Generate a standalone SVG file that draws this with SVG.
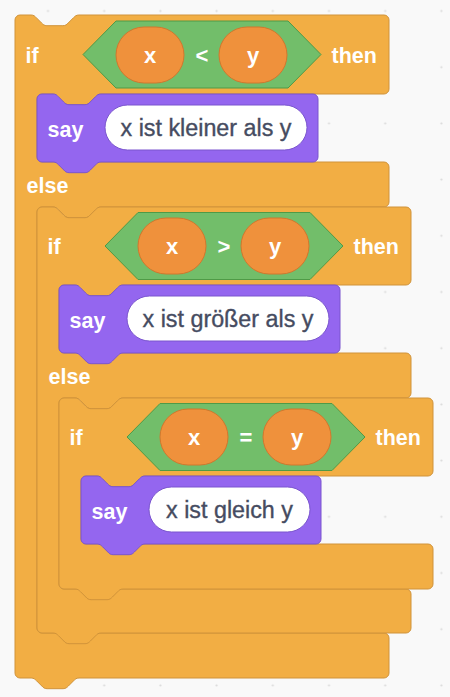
<svg xmlns="http://www.w3.org/2000/svg" width="450" height="697" viewBox="0 0 450 697">
  <defs>
    <pattern id="grid" patternUnits="userSpaceOnUse" x="19.9" y="-17.1" width="56.2" height="56.2">
      <circle cx="28.1" cy="28.1" r="1.1" fill="#dadada"/>
    </pattern>
    <style>
      .ctrl { fill: #F2AE44; stroke: #D0933A; stroke-width: 1; }
      .looks { fill: #9466EF; stroke: #7A55CE; stroke-width: 1; }
      .op { fill: #72BE6A; stroke: #4F9A47; stroke-width: 1; }
      .var { fill: #EF913C; stroke: #D2772D; stroke-width: 1; }
      .pill { fill: #FFFFFF; stroke: #7A55CE; stroke-width: 1; }
      .lbl { font-family: "Liberation Sans", Arial, sans-serif; font-weight: bold; font-size: 21.5px; fill: #FFFFFF; }
      .vlbl { font-family: "Liberation Sans", Arial, sans-serif; font-weight: bold; font-size: 22px; fill: #FFFFFF; text-anchor: middle; }
      .txt { font-family: "Liberation Sans", Arial, sans-serif; font-size: 23.3px; fill: #464C61; stroke: #464C61; stroke-width: 0.35; text-anchor: middle; }
    </style>
  </defs>

  <rect width="450" height="697" fill="#F9F9F9"/>
  <rect width="450" height="697" fill="url(#grid)"/>

  <!-- outer if / else -->
  <g id="if1">
    <path class="ctrl" d="M15,20 a5,5 0 0 1 5,-5 H31 c2.7,0 4,1.3 5.3,2.7 l5.3,5.3 c1.3,1.3 2.7,2.7 5.3,2.7 h16 c2.7,0 4,-1.3 5.3,-2.7 l5.3,-5.3 c1.3,-1.3 2.7,-2.7 5.3,-2.7 H384 a5,5 0 0 1 5,5 V89 a5,5 0 0 1 -5,5 H101 c-2.7,0 -4,1.3 -5.3,2.7 l-5.3,5.3 c-1.3,1.3 -2.7,2.7 -5.3,2.7 h-16 c-2.7,0 -4,-1.3 -5.3,-2.7 l-5.3,-5.3 c-1.3,-1.3 -2.7,-2.7 -5.3,-2.7 H42 a5,5 0 0 0 -5,5 V157 a5,5 0 0 0 5,5 H384 a5,5 0 0 1 5,5 V202 a5,5 0 0 1 -5,5 H101 c-2.7,0 -4,1.3 -5.3,2.7 l-5.3,5.3 c-1.3,1.3 -2.7,2.7 -5.3,2.7 h-16 c-2.7,0 -4,-1.3 -5.3,-2.7 l-5.3,-5.3 c-1.3,-1.3 -2.7,-2.7 -5.3,-2.7 H42 a5,5 0 0 0 -5,5 V628 a5,5 0 0 0 5,5 H384 a5,5 0 0 1 5,5 V673 a5,5 0 0 1 -5,5 H79 c-2.7,0 -4,1.3 -5.3,2.7 l-5.3,5.3 c-1.3,1.3 -2.7,2.7 -5.3,2.7 h-16 c-2.7,0 -4,-1.3 -5.3,-2.7 l-5.3,-5.3 c-1.3,-1.3 -2.7,-2.7 -5.3,-2.7 H20 a5,5 0 0 1 -5,-5 Z"/>
    <text class="lbl" x="25.5" y="62.5">if</text>
    <polygon class="op" points="83,54.5 116,21 288,21 321,54.5 288,88 116,88"/>
    <rect class="var" x="116" y="27" width="68" height="56" rx="28"/>
    <text class="vlbl" x="150" y="62.5">x</text>
    <text class="vlbl" x="202" y="62.5">&lt;</text>
    <rect class="var" x="219" y="27" width="68" height="56" rx="28"/>
    <text class="vlbl" x="253" y="62.5">y</text>
    <text class="lbl" x="331.5" y="62.5">then</text>
    <text class="lbl" x="26.5" y="192.5">else</text>
  </g>

  <g id="say1">
    <path class="looks" d="M37,99 a5,5 0 0 1 5,-5 H53 c2.7,0 4,1.3 5.3,2.7 l5.3,5.3 c1.3,1.3 2.7,2.7 5.3,2.7 h16 c2.7,0 4,-1.3 5.3,-2.7 l5.3,-5.3 c1.3,-1.3 2.7,-2.7 5.3,-2.7 H313 a5,5 0 0 1 5,5 V157 a5,5 0 0 1 -5,5 H101 c-2.7,0 -4,1.3 -5.3,2.7 l-5.3,5.3 c-1.3,1.3 -2.7,2.7 -5.3,2.7 h-16 c-2.7,0 -4,-1.3 -5.3,-2.7 l-5.3,-5.3 c-1.3,-1.3 -2.7,-2.7 -5.3,-2.7 H42 a5,5 0 0 1 -5,-5 Z"/>
    <text class="lbl" x="47.5" y="136.5">say</text>
    <rect class="pill" x="105" y="105" width="202" height="45" rx="22.5"/>
    <text class="txt" x="206" y="136">x ist kleiner als y</text>
  </g>

  <!-- nested if / else -->
  <g id="if2">
    <path class="ctrl" d="M37,212 a5,5 0 0 1 5,-5 H53 c2.7,0 4,1.3 5.3,2.7 l5.3,5.3 c1.3,1.3 2.7,2.7 5.3,2.7 h16 c2.7,0 4,-1.3 5.3,-2.7 l5.3,-5.3 c1.3,-1.3 2.7,-2.7 5.3,-2.7 H406 a5,5 0 0 1 5,5 V280 a5,5 0 0 1 -5,5 H123 c-2.7,0 -4,1.3 -5.3,2.7 l-5.3,5.3 c-1.3,1.3 -2.7,2.7 -5.3,2.7 h-16 c-2.7,0 -4,-1.3 -5.3,-2.7 l-5.3,-5.3 c-1.3,-1.3 -2.7,-2.7 -5.3,-2.7 H64 a5,5 0 0 0 -5,5 V348 a5,5 0 0 0 5,5 H406 a5,5 0 0 1 5,5 V393 a5,5 0 0 1 -5,5 H123 c-2.7,0 -4,1.3 -5.3,2.7 l-5.3,5.3 c-1.3,1.3 -2.7,2.7 -5.3,2.7 h-16 c-2.7,0 -4,-1.3 -5.3,-2.7 l-5.3,-5.3 c-1.3,-1.3 -2.7,-2.7 -5.3,-2.7 H64 a5,5 0 0 0 -5,5 V584 a5,5 0 0 0 5,5 H406 a5,5 0 0 1 5,5 V628 a5,5 0 0 1 -5,5 H101 c-2.7,0 -4,1.3 -5.3,2.7 l-5.3,5.3 c-1.3,1.3 -2.7,2.7 -5.3,2.7 h-16 c-2.7,0 -4,-1.3 -5.3,-2.7 l-5.3,-5.3 c-1.3,-1.3 -2.7,-2.7 -5.3,-2.7 H42 a5,5 0 0 1 -5,-5 Z"/>
    <text class="lbl" x="47.5" y="254">if</text>
    <polygon class="op" points="105,246 138,212.5 310,212.5 343,246 310,279.5 138,279.5"/>
    <rect class="var" x="138" y="218" width="68" height="56" rx="28"/>
    <text class="vlbl" x="172" y="254">x</text>
    <text class="vlbl" x="224" y="254">&gt;</text>
    <rect class="var" x="241" y="218" width="68" height="56" rx="28"/>
    <text class="vlbl" x="275" y="254">y</text>
    <text class="lbl" x="353.5" y="254">then</text>
    <text class="lbl" x="48.5" y="383.5">else</text>
  </g>

  <g id="say2">
    <path class="looks" d="M59,290 a5,5 0 0 1 5,-5 H75 c2.7,0 4,1.3 5.3,2.7 l5.3,5.3 c1.3,1.3 2.7,2.7 5.3,2.7 h16 c2.7,0 4,-1.3 5.3,-2.7 l5.3,-5.3 c1.3,-1.3 2.7,-2.7 5.3,-2.7 H335 a5,5 0 0 1 5,5 V348 a5,5 0 0 1 -5,5 H123 c-2.7,0 -4,1.3 -5.3,2.7 l-5.3,5.3 c-1.3,1.3 -2.7,2.7 -5.3,2.7 h-16 c-2.7,0 -4,-1.3 -5.3,-2.7 l-5.3,-5.3 c-1.3,-1.3 -2.7,-2.7 -5.3,-2.7 H64 a5,5 0 0 1 -5,-5 Z"/>
    <text class="lbl" x="69.5" y="327.5">say</text>
    <rect class="pill" x="127" y="296" width="202" height="45" rx="22.5"/>
    <text class="txt" x="228" y="327">x ist größer als y</text>
  </g>

  <!-- innermost if -->
  <g id="if3">
    <path class="ctrl" d="M59,403 a5,5 0 0 1 5,-5 H75 c2.7,0 4,1.3 5.3,2.7 l5.3,5.3 c1.3,1.3 2.7,2.7 5.3,2.7 h16 c2.7,0 4,-1.3 5.3,-2.7 l5.3,-5.3 c1.3,-1.3 2.7,-2.7 5.3,-2.7 H428 a5,5 0 0 1 5,5 V471 a5,5 0 0 1 -5,5 H145 c-2.7,0 -4,1.3 -5.3,2.7 l-5.3,5.3 c-1.3,1.3 -2.7,2.7 -5.3,2.7 h-16 c-2.7,0 -4,-1.3 -5.3,-2.7 l-5.3,-5.3 c-1.3,-1.3 -2.7,-2.7 -5.3,-2.7 H86 a5,5 0 0 0 -5,5 V539 a5,5 0 0 0 5,5 H428 a5,5 0 0 1 5,5 V584 a5,5 0 0 1 -5,5 H123 c-2.7,0 -4,1.3 -5.3,2.7 l-5.3,5.3 c-1.3,1.3 -2.7,2.7 -5.3,2.7 h-16 c-2.7,0 -4,-1.3 -5.3,-2.7 l-5.3,-5.3 c-1.3,-1.3 -2.7,-2.7 -5.3,-2.7 H64 a5,5 0 0 1 -5,-5 Z"/>
    <text class="lbl" x="69.5" y="445">if</text>
    <polygon class="op" points="127,437 160,403.5 332,403.5 365,437 332,470.5 160,470.5"/>
    <rect class="var" x="160" y="409" width="68" height="56" rx="28"/>
    <text class="vlbl" x="194" y="445">x</text>
    <text class="vlbl" x="246" y="445">=</text>
    <rect class="var" x="263" y="409" width="68" height="56" rx="28"/>
    <text class="vlbl" x="297" y="445">y</text>
    <text class="lbl" x="375.5" y="445">then</text>
  </g>

  <g id="say3">
    <path class="looks" d="M81,481 a5,5 0 0 1 5,-5 H97 c2.7,0 4,1.3 5.3,2.7 l5.3,5.3 c1.3,1.3 2.7,2.7 5.3,2.7 h16 c2.7,0 4,-1.3 5.3,-2.7 l5.3,-5.3 c1.3,-1.3 2.7,-2.7 5.3,-2.7 H316 a5,5 0 0 1 5,5 V539 a5,5 0 0 1 -5,5 H145 c-2.7,0 -4,1.3 -5.3,2.7 l-5.3,5.3 c-1.3,1.3 -2.7,2.7 -5.3,2.7 h-16 c-2.7,0 -4,-1.3 -5.3,-2.7 l-5.3,-5.3 c-1.3,-1.3 -2.7,-2.7 -5.3,-2.7 H86 a5,5 0 0 1 -5,-5 Z"/>
    <text class="lbl" x="91.5" y="518.5">say</text>
    <rect class="pill" x="149" y="487" width="161" height="45" rx="22.5"/>
    <text class="txt" x="229.5" y="518">x ist gleich y</text>
  </g>

  <g id="connectors"/>
</svg>
